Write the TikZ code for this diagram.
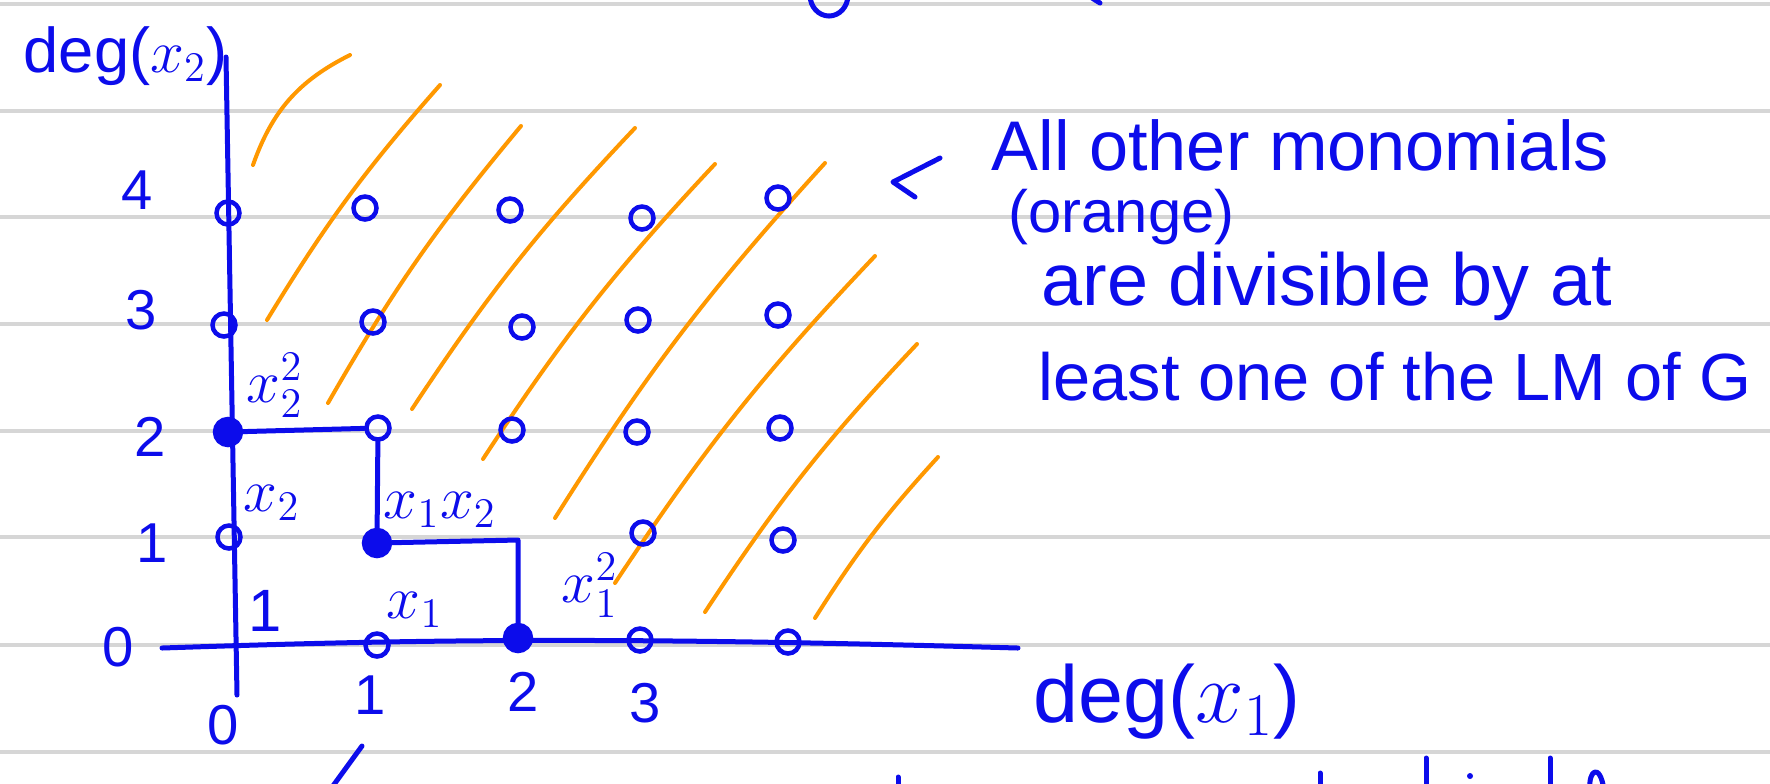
\documentclass[tikz,border=0pt]{standalone}
\usepackage{fontspec}
\setmainfont{Liberation Sans}
\usepackage{tikz}
\usetikzlibrary{arrows.meta,positioning,calc}
\definecolor{ink}{RGB}{12,12,235}
\definecolor{hatch}{RGB}{255,152,0}
\definecolor{ruleg}{RGB}{214,214,214}
\tikzset{
  lbl/.style={text=ink,inner sep=0pt,font=\fontsize{#1}{#1}\selectfont},
  lbl/.default=16,
  note/.style={text=ink,inner sep=0pt,anchor=base west,
    font=\fontsize{#1}{#1}\selectfont},
  note/.default=20,
  mono/.style={circle,draw=ink,line width=0.45mm,minimum size=2.3mm,inner sep=0pt},
  lm/.style={circle,fill=ink,draw=ink,line width=0.45mm,minimum size=2.6mm,inner sep=0pt},
  pen/.style={draw=ink,line width=0.5mm,line cap=round,line join=round},
  hl/.style={draw=hatch,line width=0.4mm,line cap=round},
}

\begin{document}
\begin{tikzpicture}[x=0.1mm,y=-0.1mm]
    \useasboundingbox (0,0) rectangle (1770,783);
    \clip (0,0) rectangle (1770,783);

    % paper lines
    \foreach \y in {4,111,217,324,431,537,645,752}
      \draw[ruleg,line width=0.4mm] (0,\y)--(1770,\y);

    % orange hatching
    \draw[hl] (253,165) to[bend left=22] (350,55);
    \foreach \a/\b/\c/\d in {267/320/440/85,328/403/521/126,412/409/635/128,
        483/459/715/164,555/518/825/163,615/583/875/256,705/612/917/344,815/618/938/457}
      \draw[hl] (\a,\b) to[bend left=5] (\c,\d);

    % axes
    \coordinate (ytop) at (226,57);
    \coordinate (ybot) at (237,695);
    \coordinate (xlft) at (162,648);
    \coordinate (xrgt) at (1018,648);
    \draw[pen] (ytop)--(ybot);
    \draw[pen] (xlft) .. controls (400,640) and (600,636) .. (xrgt);

    % monomials
    \foreach \n/\x/\y in {m04/228/213,m14/365/208,m24/510/210,m34/642/218,m44/778/198,
        m03/224/325,m13/373/322,m23/522/327,m33/638/320,m43/778/315,
        m12/378/428,m22/512/430,m32/637/432,m42/780/428,
        m01/229/537,m31/643/533,m41/783/540,
        m10/377/645,m30/640/640,m40/788/642}
      \node[mono] (\n) at (\x,\y) {};

    % leading monomials and staircase
    \node[lm] (x2sq) at (228,432) {};
    \node[lm] (x1x2) at (377,543) {};
    \node[lm] (x1sq) at (518,638) {};
    \coordinate (c21) at (518,540);
    \draw[pen] (x2sq) -- (m12) -- (x1x2) -- (c21) -- (x1sq);

    \node[lbl=17] (tx2sq) at (275,385) {$x_2^2$};
    \node[lbl=17] (tx2) at (272,503) {$x_2$};
    \node[lbl=17] (tone) at (265,611) {1};
    \node[lbl=17] (tx1) at (415,610) {$x_1$};
    \node[lbl=17] (tx1x2) at (440,510) {$x_1x_2$};
    \node[lbl=17] (tx1sq) at (590,585) {$x_1^2$};

    % tick numbers
    \foreach \n/\x/\y/\t in {ny4/137/190/4,ny3/141/310/3,ny2/150/437/2,ny1/152/543/1,ny0/118/647/0,
        nx0/223/725/0,nx1/370/695/1,nx2/523/692/2,nx3/645/703/3}
      \node[lbl] (\n) at (\x,\y) {\t};

    % axis names
    \node[note=18] (degy) at (23,72) {deg($x_2$)};
    \node[note=23] (degx) at (1033,722) {deg($x_1$)};

    % remark
    \node[note=20] (l1) at (991,170) {All other monomials};
    \node[note=17] (l2) at ($(l1.base west)+(17,62)$) {(orange)};
    \node[note=21] (l3) at ($(l1.base west)+(50,135)$) {are divisible by at};
    \node[note=19] (l4) at ($(l1.base west)+(47,230)$) {least one of the LM of G};
    \coordinate (tail) at (940,158);
    \coordinate (tip) at (893,182);
    \coordinate (barb) at (915,197);
    \draw[pen] (tail) -- (tip) -- (barb);

    % cut-off strokes at the edges
    \draw[pen] (829,-5) ellipse [x radius=19,y radius=21];
    \draw[pen] (1092,-2) -- (1100,3);
    \coordinate (hk0) at (330,790);
    \coordinate (hk1) at (362,746);
    \draw[pen] (hk0) -- (hk1);
    \foreach \x/\y in {898/777,1320/773,1426/758,1550/758}
      \draw[pen] (\x,\y) -- (\x,790);
    \fill[ink] (1470,776) circle [radius=3];
    \draw[pen] (1590,790) .. controls (1588,770) and (1600,762) .. (1604,790);
  \end{tikzpicture}
\end{document}
